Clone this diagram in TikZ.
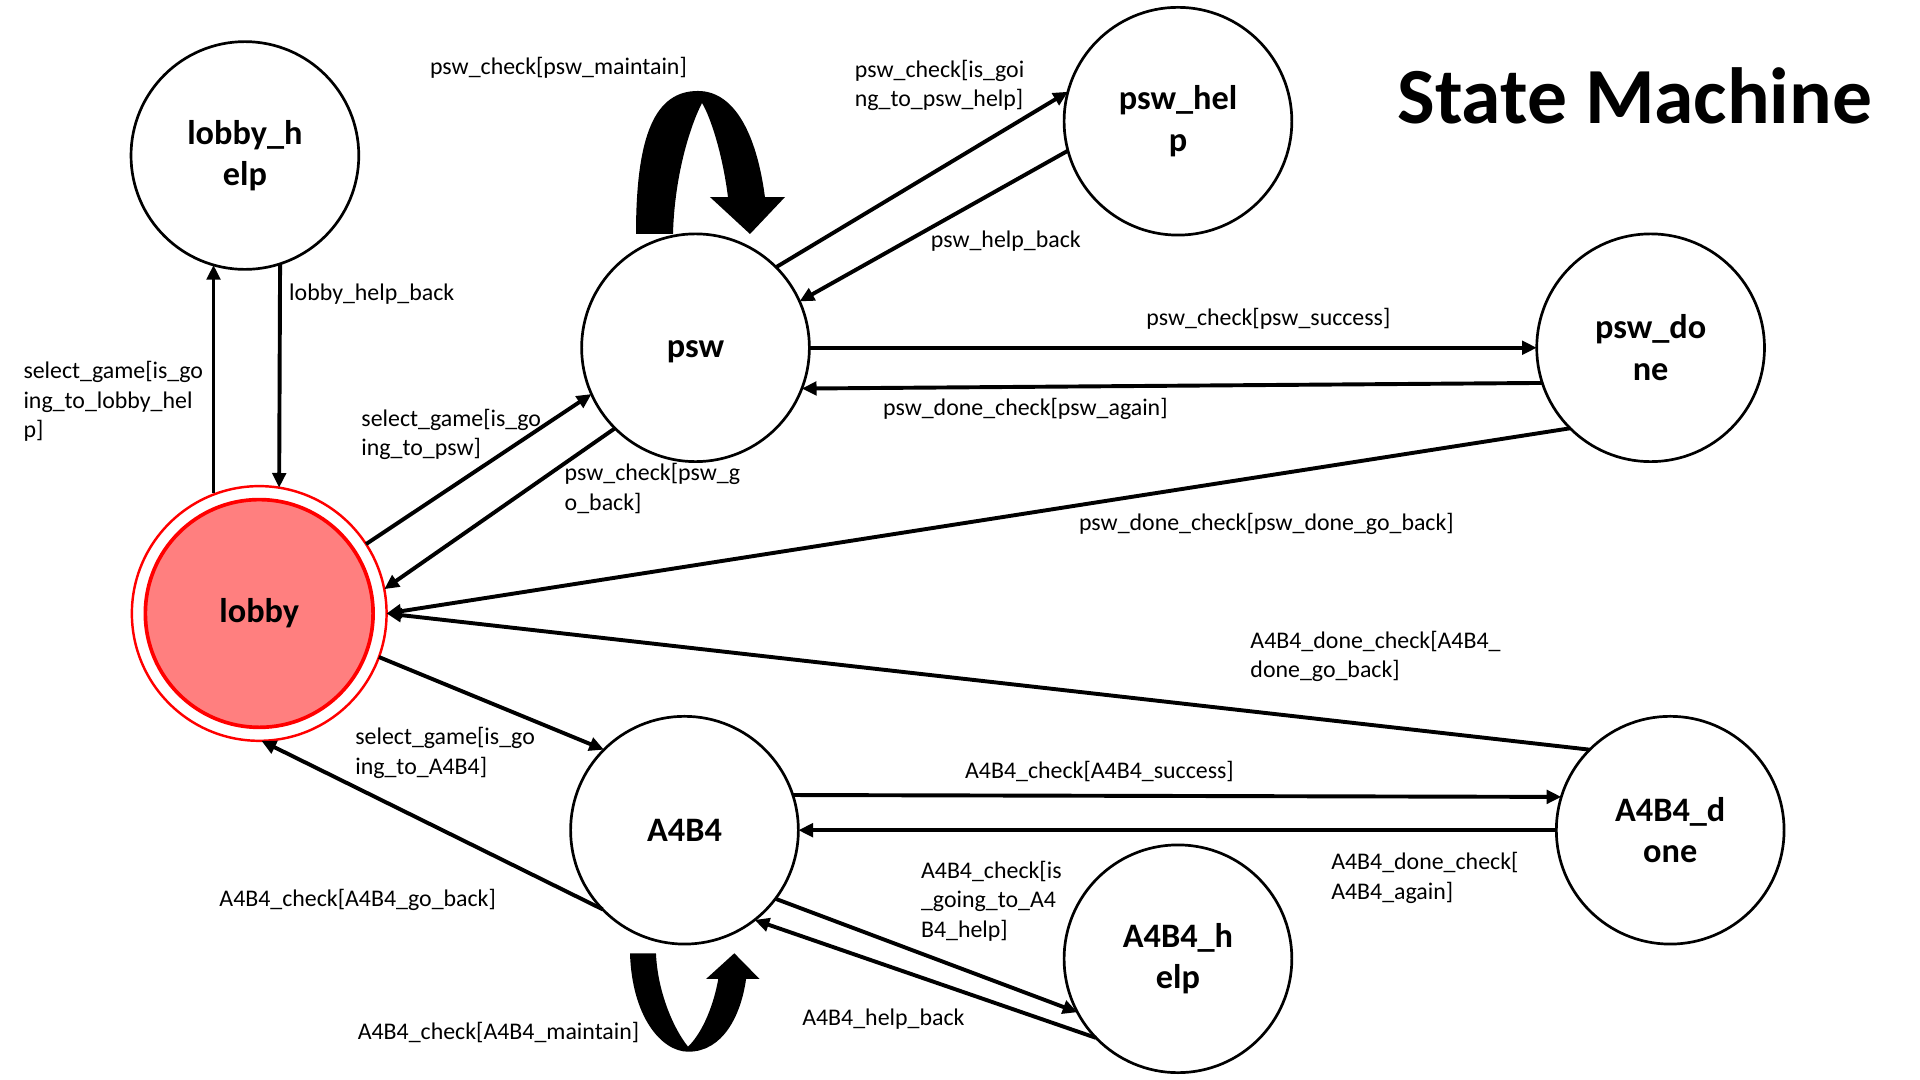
\documentclass[tikz,border=0pt]{standalone}
\usepackage{fontspec}
\setmainfont{Carlito}
\usetikzlibrary{arrows.meta}
\definecolor{lobbypink}{HTML}{FF7F7F}
\begin{document}
\begin{tikzpicture}[x=1pt,y=-1pt,
  state/.style={circle,draw=black,line width=2.2pt,fill=white,minimum size=186pt,inner sep=0pt,outer sep=0pt,align=center,font=\fontsize{28}{34}\selectfont\bfseries},
  lbl/.style={anchor=west,align=left,inner sep=0pt,font=\fontsize{19.5}{24}\selectfont},
  edge/.style={line width=3.2pt,-{Triangle[length=12pt,width=11pt]}},
  bigloop/.style={fill=black,draw=none}]
\useasboundingbox (0,0) rectangle (1568,882);
\fill[white] (0,0) rectangle (1568,882);

% states
\node[state] (lobbyhelp) at (200,127) {lobby\_h\\elp};
\node[state,text height=21pt] (psw) at (568,284) {psw};
\node[state] (pswhelp) at (962,99) {psw\_hel\\p};
\node[state] (pswdone) at (1348,284) {psw\_do\\ne};
\node[state] (a4b4) at (559,678) {A4B4};
\node[state] (a4b4done) at (1364,678) {A4B4\_d\\one};
\node[state] (a4b4help) at (962,783) {A4B4\_h\\elp};
\node[circle,draw=red,line width=2pt,fill=white,minimum size=208pt,inner sep=0pt,outer sep=0pt] (lobby) at (211.7,501) {};
\node[circle,draw=red,line width=3pt,fill=lobbypink,minimum size=186pt,inner sep=0pt,font=\fontsize{28}{34}\selectfont\bfseries] (lobbyin) at (lobby.center) {lobby};

% title
\node[anchor=base west,inner sep=0pt,font=\fontsize{65}{78}\selectfont\bfseries] (title) at (1141,101) {State Machine};

% edges
\draw[edge] (lobbyhelp.254 |- lobby.109) -- (lobbyhelp.254);
\draw[edge] (lobbyhelp.288.6) -- (lobby.81);
\draw[edge] (lobby.33.2) -- (psw.204);
\draw[edge] (psw.225) -- (lobby.11.9);
\draw[edge] (psw.45) -- (pswhelp.165.7);
\draw[edge] (pswhelp.195.7) -- (psw.24.4);
\draw[edge] (psw.0) -- (pswdone.180);
\draw[edge] (pswdone.198.3) -- (psw.339);
\draw[edge] (pswdone.225.4) -- (lobby.0);
\draw[edge] (a4b4done.135) -- (lobby.0);
\draw[edge] (lobby.340.6) -- (a4b4.135);
\draw[edge] (a4b4.224.6) -- (lobby.271.3);
\draw[edge] (a4b4.18.6) -- (a4b4done.163.4);
\draw[edge] (a4b4done.180) -- (a4b4.0);
\draw[edge] (a4b4.323.4) -- (a4b4help.208.3);
\draw[edge] (a4b4help.224.6) -- (a4b4.308.9);

% self loops (block arrows)
\fill[bigloop] (519.4,191.1) .. controls (519.4,110) and (535,74.3) .. (570,74.3)
  .. controls (600,74.3) and (618,110) .. (624.7,160.9) -- (641.1,160.9) -- (612.5,191.1)
  -- (579.8,160.9) -- (594.5,160.9) .. controls (590,125) and (580,95) .. (573.3,84.1)
  .. controls (565,100) and (551,140) .. (549.6,191.1) -- cycle;
\fill[bigloop] (514.5,778.5) .. controls (516,830) and (540,858.9) .. (562.1,858.9)
  .. controls (590,858.9) and (605,830) .. (609.3,799.5) -- (620.3,799.5) -- (599.7,778.5)
  -- (576.6,799.5) -- (586.6,799.5) .. controls (582,825) and (572,845) .. (561.9,854.8)
  .. controls (550,840) and (537,810) .. (535.7,778.5) -- cycle;

% labels
\node[lbl] (l1) at (351,55) {psw\_check[psw\_maintain]};
\node[lbl] (l2) at (698,70) {psw\_check[is\_goi\\ng\_to\_psw\_help]};
\node[lbl] (l3) at (760,197) {psw\_help\_back};
\node[lbl] (l4) at (236,240) {lobby\_help\_back};
\node[lbl] (l5) at (19,328) {select\_game[is\_go\\ing\_to\_lobby\_hel\\p]};
\node[lbl] (l6) at (295,355) {select\_game[is\_go\\ing\_to\_psw]};
\node[lbl] (l7) at (461,399) {psw\_check[psw\_g\\o\_back]};
\node[lbl] (l8) at (936,260) {psw\_check[psw\_success]};
\node[lbl] (l9) at (721,334) {psw\_done\_check[psw\_again]};
\node[lbl] (l10) at (881,428) {psw\_done\_check[psw\_done\_go\_back]};
\node[lbl] (l11) at (1021,536) {A4B4\_done\_check[A4B4\_\\done\_go\_back]};
\node[lbl] (l12) at (290,615) {select\_game[is\_go\\ing\_to\_A4B4]};
\node[lbl] (l13) at (788,630) {A4B4\_check[A4B4\_success]};
\node[lbl] (l14) at (752,736) {A4B4\_check[is\\\_going\_to\_A4\\B4\_help]};
\node[lbl] (l15) at (1087,717) {A4B4\_done\_check[\\A4B4\_again]};
\node[lbl] (l16) at (179,735) {A4B4\_check[A4B4\_go\_back]};
\node[lbl] (l17) at (655,832) {A4B4\_help\_back};
\node[lbl] (l18) at (292,843) {A4B4\_check[A4B4\_maintain]};
\end{tikzpicture}
\end{document}
